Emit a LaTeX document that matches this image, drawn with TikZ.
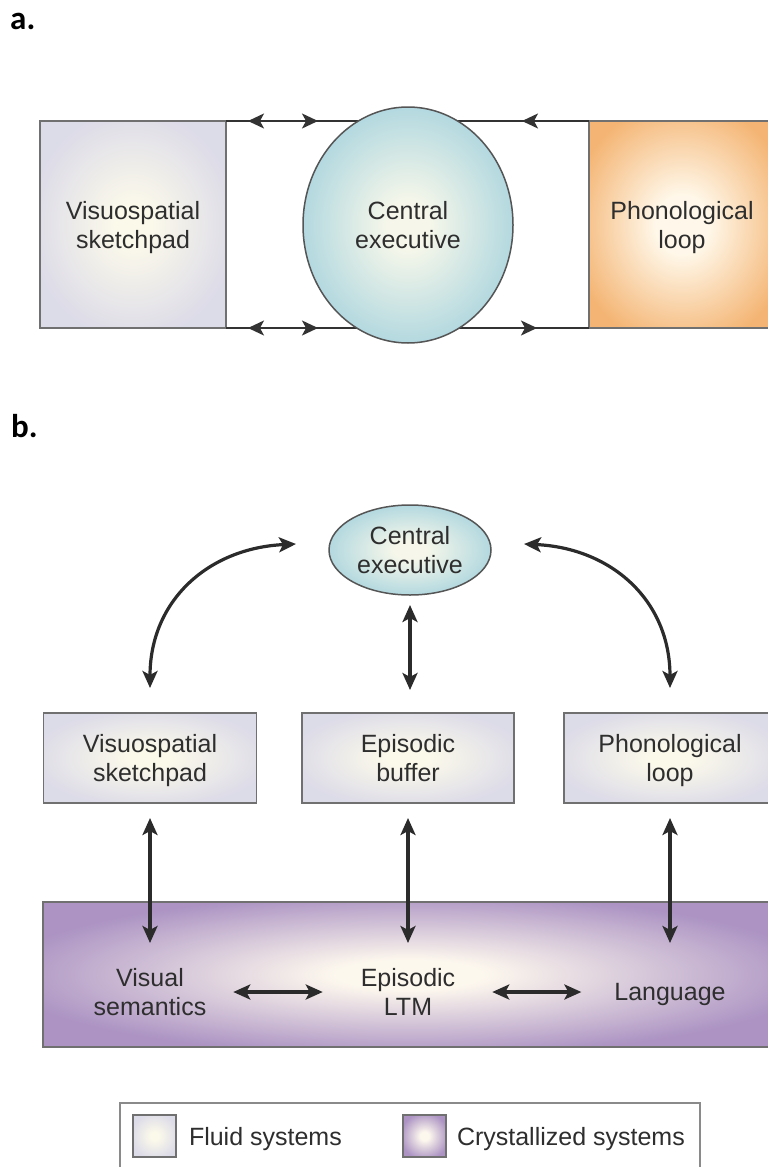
\documentclass[tikz,border=0pt]{standalone}
\usepackage{fontspec}
\setmainfont{Liberation Sans}
\newfontfamily\lblfont{Carlito}
\usetikzlibrary{shapes.geometric,arrows.meta,decorations.markings}
\definecolor{txt}{HTML}{2E2E2E}
\definecolor{ln}{HTML}{333333}
\definecolor{ln2}{HTML}{2B2B2B}
\definecolor{bord}{HTML}{707070}
\definecolor{ellbord}{HTML}{555555}
\definecolor{legbord}{HTML}{8A8A8A}
\definecolor{fluidout}{HTML}{DCDBE8}
\definecolor{fluidin}{HTML}{FBF9EA}
\definecolor{cyanout}{HTML}{A9D4DE}
\definecolor{cyanin}{HTML}{F6F7EA}
\definecolor{orout}{HTML}{F4B574}
\definecolor{orin}{HTML}{FFF8EA}
\definecolor{purout}{HTML}{AC93C3}
\definecolor{purin}{HTML}{FDF8EE}
\pgfdeclareradialshading{fluidshade}{\pgfpoint{0bp}{0bp}}{color(0bp)=(fluidin); color(5bp)=(fluidin); color(28bp)=(fluidout); color(50bp)=(fluidout)}
\pgfdeclareradialshading{cyanshade}{\pgfpoint{0bp}{0bp}}{color(0bp)=(cyanin); color(5bp)=(cyanin); color(28bp)=(cyanout); color(50bp)=(cyanout)}
\pgfdeclareradialshading{orshade}{\pgfpoint{0bp}{0bp}}{color(0bp)=(orin); color(7bp)=(orin); color(30bp)=(orout); color(50bp)=(orout)}
\pgfdeclareradialshading{purshade}{\pgfpoint{0bp}{0bp}}{color(0bp)=(purin); color(5bp)=(purin); color(28bp)=(purout); color(50bp)=(purout)}
\tikzset{
  lab/.style={font=\fontsize{25}{29}\selectfont, text=txt, align=center, text depth=0pt},
  hdr/.style={font=\lblfont\bfseries\fontsize{33}{33}\selectfont, anchor=base west, inner sep=0pt, text=black},
  fluid/.style={draw=bord, line width=1.4pt, shading=fluidshade, inner sep=0pt, outer sep=0pt},
  orangebox/.style={draw=bord, line width=1.4pt, shading=orshade, inner sep=0pt, outer sep=0pt},
  purplebox/.style={draw=bord, line width=1.4pt, shading=purshade, inner sep=0pt, outer sep=0pt},
  cyanell/.style={ellipse, draw=ellbord, line width=1.5pt, shading=cyanshade, inner sep=0pt, outer sep=0pt},
  atip/.tip={Stealth[length=16pt,width=15pt,inset=4pt]},
  btip/.tip={Stealth[length=17pt,width=15pt,inset=4pt]},
  aline/.style={draw=ln, line width=1.8pt},
  bline/.style={draw=ln2, line width=3.2pt, btip-btip},
  topmarks/.style={postaction={decorate}, decoration={markings,
     mark=at position 22pt with {\arrowreversed[ln]{atip}},
     mark=at position 92pt with {\arrow[ln]{atip}},
     mark=at position 296pt with {\arrowreversed[ln]{atip}}}},
  botmarks/.style={postaction={decorate}, decoration={markings,
     mark=at position 22pt with {\arrowreversed[ln]{atip}},
     mark=at position 92pt with {\arrow[ln]{atip}},
     mark=at position 311pt with {\arrow[ln]{atip}}}},
  txtnode/.style={lab, inner sep=0pt, outer sep=0pt}
}
\begin{document}
\begin{tikzpicture}[x=1pt,y=-1pt]
\useasboundingbox (0,0) rectangle (768,1167);
\clip (0,0) rectangle (768,1167);
% ---------- part a ----------
\node[hdr] (la) at (10,29) {a.};
\node[fluid, lab, minimum width=186pt, minimum height=207pt] (vs) at (133,224.5) {Visuospatial\\sketchpad};
\node[orangebox, lab, minimum width=186pt, minimum height=207pt] (pl) at (682,224.5) {Phonological\\loop};
\draw[aline, topmarks] (vs.north east) -- (pl.north west);
\draw[aline, botmarks] (vs.south east) -- (pl.south west);
\node[cyanell, lab, minimum width=210pt, minimum height=236pt] (ce) at (408,225) {Central\\executive};
% ---------- part b ----------
\node[hdr] (lb) at (11,437) {b.};
\node[cyanell, lab, minimum width=162pt, minimum height=90pt] (ceb) at (410,550) {Central\\executive};
\node[fluid, lab, minimum width=213pt, minimum height=90pt] (vs2) at (150,758) {Visuospatial\\sketchpad};
\node[fluid, lab, minimum width=212pt, minimum height=90pt] (eb) at (408,758) {Episodic\\buffer};
\node[fluid, lab, minimum width=212pt, minimum height=90pt] (pl2) at (670,758) {Phonological\\loop};
\node[purplebox, minimum width=732pt, minimum height=145pt] (band) at (409,974.5) {};
\node[txtnode] (vsem) at (150,992) {Visual\\semantics};
\node[txtnode] (elt) at (408,992) {Episodic\\LTM};
\node[txtnode] (lang) at (670,992) {Language};
\coordinate (ebtop) at (410,690);
\coordinate (b1) at (150,943);
\coordinate (b2) at (408,943);
\coordinate (b3) at (670,943);
\draw[bline] ([xshift=-33pt,yshift=6pt]ceb.west) .. controls +(-87,4) and +(0,-88) .. ([yshift=25pt]vs2.north);
\draw[bline] ([xshift=33pt,yshift=6pt]ceb.east) .. controls +(87,4) and +(0,-88) .. ([yshift=25pt]pl2.north);
\draw[bline] ([yshift=-10pt]ceb.south) -- (ebtop);
\draw[bline] ([yshift=-15pt]vs2.south) -- (b1);
\draw[bline] ([yshift=-15pt]eb.south) -- (b2);
\draw[bline] ([yshift=-15pt]pl2.south) -- (b3);
\draw[bline] ([xshift=27pt]vsem.east) -- ([xshift=-38pt]elt.west);
\draw[bline] ([xshift=37pt]elt.east) -- ([xshift=-33pt]lang.west);
% ---------- legend ----------
\node[draw=legbord, line width=1.2pt, fill=white, minimum width=580pt, minimum height=72pt, inner sep=0pt] (leg) at (410,1139) {};
\node[fluid, minimum width=43pt, minimum height=42pt] (lf) at (154.5,1136) {};
\node[txtnode, anchor=west] (lft) at (189,1136) {Fluid systems};
\node[purplebox, minimum width=43pt, minimum height=42pt] (lc) at (424.5,1136) {};
\node[txtnode, anchor=west] (lct) at (457,1136) {Crystallized systems};
\end{tikzpicture}
\end{document}
